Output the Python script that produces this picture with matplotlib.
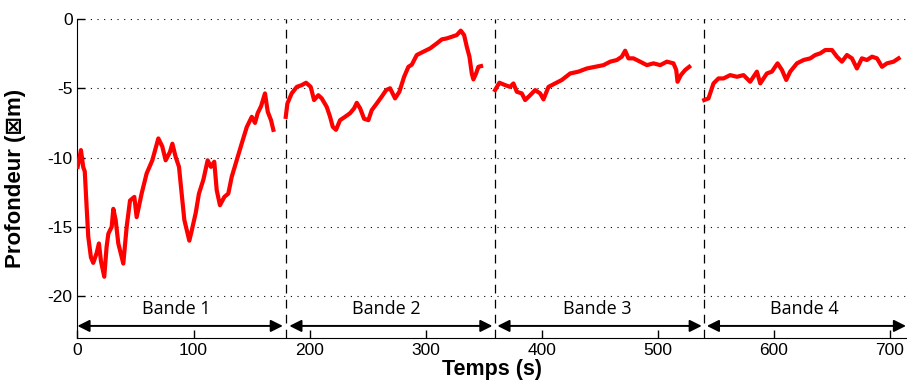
import numpy as np
import matplotlib
matplotlib.use('Agg')
import matplotlib.pyplot as plt

plt.rcParams['axes.unicode_minus'] = False

# profondeur relevee sur chaque bande (temps en s, profondeur en m)
t1 = [0.2, 3, 5, 6.3, 7.9, 9.3, 11.6, 13.6, 16.5, 18.5, 20.3, 23.1, 25.1, 26.6, 29.5, 30.9,
      32.9, 35.2, 39.5, 42.4, 45.3, 49, 51, 55.3, 59.6, 64.5, 69.7, 73.1, 76, 79.7, 81.8,
      84.6, 87.5, 89.8, 92.1, 96.4, 98.4, 101.9, 104.7, 108.5, 112.2, 115, 117.9, 120,
      122.8, 126.6, 130, 132.9, 137.2, 141.5, 145.9, 150.2, 153, 155.3, 158.2, 161.6,
      164, 166.8, 168.8]
p1 = [-10.67, -9.46, -10.7, -11, -13.56, -15.7, -17.2, -17.6, -16.9, -16.2, -17.5, -18.6,
      -16.45, -15.5, -15.0, -13.7, -14.5, -16.2, -17.65, -15.0, -13.1, -12.84, -14.3, -12.6,
      -11.15, -10.2, -8.62, -9.2, -10.2, -9.6, -9.0, -9.95, -10.67, -12.6, -14.5, -16.0,
      -15.3, -14.0, -12.6, -11.6, -10.2, -10.67, -10.3, -12.35, -13.44, -12.84, -12.6,
      -11.4, -10.2, -9.0, -7.8, -7.06, -7.5, -6.8, -6.3, -5.37, -6.7, -7.3, -8.0]

t2 = [179.5, 180.9, 184.6, 189, 193.3, 197, 201, 203.9, 207.6, 210.5, 214.8, 217.7, 220,
      222.8, 226.3, 230.6, 234.9, 238.4, 240.7, 243.6, 247, 250.7, 253.6, 257.9, 262.2,
      266, 269.4, 273.7, 277.4, 281.5, 285.2, 288.1, 292.4, 298.1, 303.9, 309.7, 314,
      318.3, 322.6, 326.9, 330.3, 333.2, 335.5, 337.8, 339.8, 341.2, 343.5, 345.5, 347.8]
p2 = [-7.06, -6.1, -5.37, -4.9, -4.77, -4.6, -4.9, -5.85, -5.5, -5.73, -6.34, -7.06, -7.78,
      -8.0, -7.3, -7.06, -6.8, -6.45, -6.05, -6.45, -7.2, -7.3, -6.58, -6.1, -5.6, -5.13,
      -5.0, -5.73, -5.25, -4.17, -3.45, -3.3, -2.6, -2.36, -2.12, -1.76, -1.47, -1.4,
      -1.28, -1.16, -0.84, -1.16, -2.0, -2.72, -3.93, -4.36, -3.93, -3.45, -3.4]

t3 = [359.9, 363.6, 368.5, 372.8, 375.7, 378.6, 382.9, 385.8, 390.1, 394.4, 398.7, 401.6,
      405.9, 411.6, 417.4, 424.6, 431.7, 439, 446.1, 453.3, 459.1, 464.8, 469.1, 472,
      474.8, 479.1, 484.9, 490.7, 496.4, 502.2, 507.9, 513.6, 516, 517.1, 520, 523.7, 527.2]
p3 = [-5.13, -4.6, -4.77, -4.9, -4.65, -5.25, -5.37, -5.85, -5.5, -5.13, -5.37, -5.8, -4.9,
      -4.65, -4.4, -3.93, -3.8, -3.57, -3.45, -3.33, -3.08, -2.96, -2.72, -2.29, -2.84,
      -2.84, -3.08, -3.33, -3.2, -3.33, -3.08, -3.2, -3.68, -4.53, -4.05, -3.68, -3.45]

t4 = [540.1, 543.8, 548.1, 552.4, 556.7, 562.5, 568.3, 574, 579.7, 585.5, 588.4, 594.1,
      598.4, 603.3, 607.1, 610.8, 614.2, 620, 625.7, 631.5, 635.8, 640.1, 644.4, 650.2,
      654.5, 658.8, 663.1, 667.4, 671.7, 676, 680.3, 684.7, 689, 693.3, 697.6, 703.3, 707.6]
p4 = [-5.85, -5.73, -4.65, -4.29, -4.29, -4.05, -4.17, -4.05, -4.53, -3.8, -4.65, -3.93,
      -3.8, -3.2, -3.68, -4.4, -3.8, -3.2, -2.96, -2.84, -2.6, -2.48, -2.24, -2.24, -2.72,
      -3.08, -2.6, -2.84, -3.57, -2.84, -2.96, -2.72, -2.84, -3.45, -3.2, -3.08, -2.84]

# limites des bandes et fleches
band_edges = [180, 360, 540]
arrow_start = [0, 182.6, 361.9, 542.4]
arrow_end = [177, 357.6, 538, 714]
band_labels = ['Bande 1', 'Bande 2', 'Bande 3', 'Bande 4']
label_x = [85, 266, 448, 626]

fig = plt.figure(figsize=(9.07, 3.90), dpi=100)
ax = fig.add_axes([0.0854, 0.1341, 0.9135, 0.8172])

for t, p in [(t1, p1), (t2, p2), (t3, p3), (t4, p4)]:
	ax.plot(t, p, color='#ff0000', lw=3.0, solid_joinstyle='round', zorder=3)

for xe in band_edges:
	ax.axvline(xe, color='black', lw=0.9, ls=(0, (7, 5)), zorder=2)

for xs, xe in zip(arrow_start, arrow_end):
	ax.annotate('', xy=(xe, -22.15), xytext=(xs, -22.15),
		arrowprops=dict(arrowstyle='<|-|>', color='black', lw=1.4,
		mutation_scale=18, shrinkA=0, shrinkB=0))
for xl, lab in zip(label_x, band_labels):
	ax.text(xl, -20.95, lab, ha='center', va='center', fontsize=13, family='Open Sans')

ax.set_xlim(0, 714)
ax.set_ylim(-23, 0)
ax.set_xticks([0, 100, 200, 300, 400, 500, 600, 700])
ax.set_yticks([-20, -15, -10, -5, 0])
ax.yaxis.grid(True, ls=(0, (1, 5)), color='black', lw=0.8)
ax.tick_params(direction='in', length=6, width=1, labelsize=12.5)
for lab in ax.get_xticklabels() + ax.get_yticklabels():
	lab.set_family('Liberation Sans')
ax.spines['top'].set_visible(False)
ax.spines['right'].set_visible(False)

ax.set_xlabel('Temps (s)', fontsize=15.5, fontweight='bold', family=['Liberation Sans', 'DejaVu Sans'], labelpad=1)
ax.set_ylabel('Profondeur (\u22a0m)', fontsize=16, fontweight='bold', family=['Liberation Sans', 'DejaVu Sans'])
ax.yaxis.set_label_coords(-0.062, 0.5)

plt.savefig('out.png', dpi=100)
